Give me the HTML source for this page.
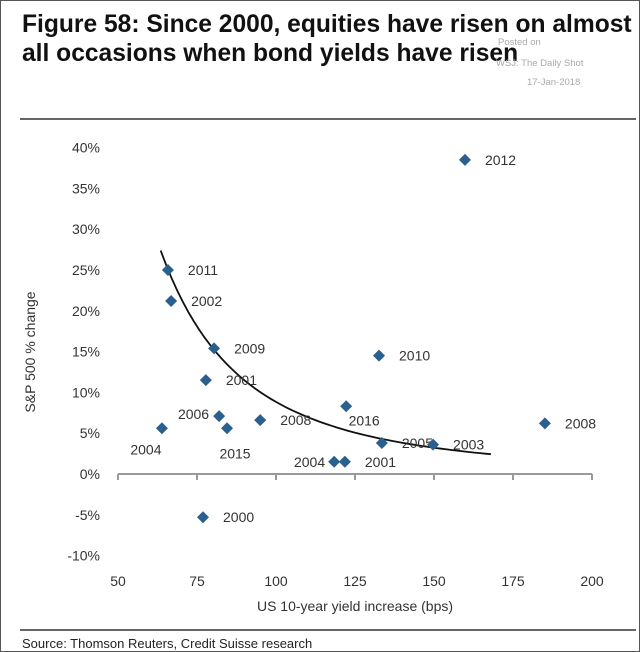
<!DOCTYPE html>
<html><head><meta charset="utf-8"><style>
body{margin:0;background:#fff;}
#wrap{position:relative;width:640px;height:652px;overflow:hidden;background:#fff;font-family:"Liberation Sans",Arial,sans-serif;}
</style></head><body>
<div id="wrap">
<svg id="svg" width="640" height="652" xmlns="http://www.w3.org/2000/svg">
<rect x="0.5" y="0.5" width="639" height="651" fill="#fff" stroke="#555"/>
<text x="22" y="32" font-size="24.6" font-weight="bold" fill="#111">Figure 58: Since 2000, equities have risen on almost</text>
<text x="22" y="61" font-size="24.6" font-weight="bold" fill="#111">all occasions when bond yields have risen</text>
<text x="498" y="45" font-size="9.5" fill="#aaa">Posted on</text>
<text x="496" y="66" font-size="9.5" fill="#aaa">WSJ: The Daily Shot</text>
<text x="527" y="85" font-size="9.5" fill="#aaa">17-Jan-2018</text>
<line x1="20" y1="119" x2="636" y2="119" stroke="#333" stroke-width="1.5"/>
<line x1="20" y1="630" x2="636" y2="630" stroke="#333" stroke-width="1.5"/>
<text x="22" y="648" font-size="13" fill="#222">Source: Thomson Reuters, Credit Suisse research</text>
<g id="plot"></g>
</svg>
</div>
<script>
const xs = [159.8,65.8,66.8,80.4,77.8,132.6,122.2,82,84.5,95,63.9,133.5,149.7,185.1,118.4,121.8,76.9];
const ys = [38.5,25,21.2,15.4,11.5,14.5,8.3,7.1,5.6,6.6,5.6,3.8,3.6,6.2,1.5,1.5,-5.3];
const years = ["2012","2011","2002","2009","2001","2010","2016","2006","2015","2008","2004","2005","2003","2008","2004","2001","2000"];
const labelSide = ["r","r","r","r","r","r","bl","l","bl","r","bl","r","r","r","l","r","r"];
const xTicks = [50,75,100,125,150,175,200];
const yTicks = [40,35,30,25,20,15,10,5,0,-5,-10];
const trendA = 844000, trendB = -2.49, trendX0 = 63.5, trendX1 = 168;

const NS="http://www.w3.org/2000/svg";
const g=document.getElementById('plot');
const X=v=>118+(v-50)*(592-118)/150;
const Y=v=>474-v*8.16;
function mk(t,a){const e=document.createElementNS(NS,t);for(const k in a)e.setAttribute(k,a[k]);g.appendChild(e);return e;}
let ax=mk('line',{x1:X(50),y1:Y(0),x2:X(200),y2:Y(0),stroke:'#999','stroke-width':2});


xTicks.forEach(v=>{
 let t=mk('line',{x1:X(v),y1:Y(0),x2:X(v),y2:Y(0)+6,stroke:'#999','stroke-width':2});
 
 
 let l=mk('text',{x:X(v),y:586,'font-size':14,'text-anchor':'middle',fill:'#333'});l.textContent=v;
 
 
});
yTicks.forEach(v=>{
 let l=mk('text',{x:100,y:Y(v)+5,'font-size':14,'text-anchor':'end',fill:'#333'});l.textContent=v+'%';
 
 
});
let xt=mk('text',{x:355,y:611,'font-size':14,'text-anchor':'middle',fill:'#333'});xt.textContent='US 10-year yield increase (bps)';


let yt=mk('text',{x:0,y:0,'font-size':14,'text-anchor':'middle',fill:'#333',transform:'translate(35,352) rotate(-90)'});yt.textContent='S&P 500 % change';


let d='';for(let i=0;i<=60;i++){const xv=trendX0+(trendX1-trendX0)*i/60;const yv=trendA*Math.pow(xv,trendB);d+=(i?'L':'M')+X(xv).toFixed(1)+' '+Y(yv).toFixed(1);}
let tr=mk('path',{d:d,fill:'none',stroke:'#111','stroke-width':1.8});


xs.forEach((xv,i)=>{
 const cx=X(xv),cy=Y(ys[i]);
 let p=mk('polygon',{points:`${cx},${cy-6} ${cx+6},${cy} ${cx},${cy+6} ${cx-6},${cy}`,fill:'#2b5f8e'});
 
 
 let lx=cx+20,ly=cy+5,anc='start';
 if(labelSide[i]==='l'){lx=cx-9;anc='end';}
 if(labelSide[i]==='bl'){lx=cx-(i===6?-18:i===8?-8:16);ly=cy+(i===6?19:i===8?30:26);anc='middle';}
 if(i===7){lx=cx-10;ly=cy+3;}
 let l=mk('text',{x:lx,y:ly,'font-size':14,'text-anchor':anc,fill:'#333'});l.textContent=years[i];
 
 
});
</script>
</body></html>
